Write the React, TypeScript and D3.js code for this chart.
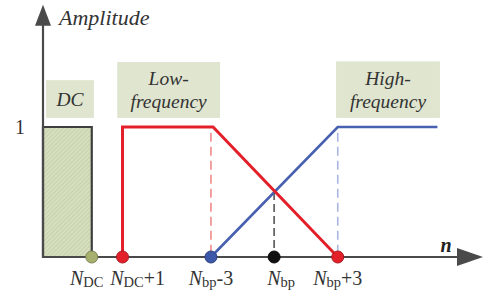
import React, { useEffect, useRef } from 'react';
import * as d3 from 'd3';

// schematic positions along n (arbitrary units)
const nDC = 2.3;
const nDC1 = 3.75;
const nBpMinus3 = 7.92;
const nBp = 10.9;
const nBpPlus3 = 13.9;
const nEndBlue = 18.6;
const nAxisEnd = 20.75;

// response curves: [n, amplitude]
const dcBand: [number, number][] = [[0, 0], [0, 1], [nDC, 1], [nDC, 0]];
const lowBand: [number, number][] = [[nDC1, 0], [nDC1, 1], [nBpMinus3 + 0.1, 1], [nBpPlus3, 0]];
const highBand: [number, number][] = [[nBpMinus3, 0], [nBpPlus3, 1], [nEndBlue, 1]];

const tickLabels = [
    { n: nDC, main: 'N', sub: 'DC', tail: '', dot: '#a8b070', nudge: -5 },
    { n: nDC1, main: 'N', sub: 'DC', tail: '+1', dot: '#e3202a', nudge: 15 },
    { n: nBpMinus3, main: 'N', sub: 'bp', tail: '-3', dot: '#3d58a8', nudge: 0 },
    { n: nBp, main: 'N', sub: 'bp', tail: '', dot: '#111111', nudge: 7 },
    { n: nBpPlus3, main: 'N', sub: 'bp', tail: '+3', dot: '#e3202a', nudge: 0 },
];

const bandBoxes = [
    { lines: ['DC'], n0: 0.14, n1: 2.4, top: 1.36 },
    { lines: ['Low-', 'frequency'], n0: 3.5, n1: 8.35, top: 1.5 },
    { lines: ['High-', 'frequency'], n0: 13.82, n1: 18.72, top: 1.505 },
];

function App() {
    const ref = useRef<SVGSVGElement>(null);
    const width = 487;
    const height = 297;

    useEffect(() => {
        drawChart();
    });

    function drawChart() {
        const svg = d3.select(ref.current);
        svg.selectAll('*').remove();

        const x = d3.scaleLinear().domain([0, nAxisEnd]).range([43, 483]);
        const y = d3.scaleLinear().domain([0, 1]).range([257, 127]);
        const serif = "'Liberation Serif', 'Times New Roman', Times, 'DejaVu Serif', serif";

        const defs = svg.append('defs');
        const pat = defs.append('pattern')
            .attr('id', 'hatch')
            .attr('patternUnits', 'userSpaceOnUse')
            .attr('width', 3)
            .attr('height', 3)
            .attr('patternTransform', 'rotate(45)');
        pat.append('rect').attr('width', 3).attr('height', 3).attr('fill', '#d6dfc0');
        pat.append('line').attr('x1', 0).attr('y1', 0).attr('x2', 0).attr('y2', 3)
            .attr('stroke', '#b7c496').attr('stroke-width', 1);

        const line = d3.line<[number, number]>().x(d => x(d[0])).y(d => y(d[1]));

        // label boxes
        bandBoxes.forEach(b => {
            const g = svg.append('g');
            const x0 = x(b.n0), x1 = x(b.n1);
            const y0 = y(b.top), y1 = y(1.07);
            g.append('rect')
                .attr('x', x0).attr('y', y0)
                .attr('width', x1 - x0).attr('height', y1 - y0)
                .attr('fill', '#dfe5cf');
            const cy = (y0 + y1) / 2;
            b.lines.forEach((t, i) => {
                g.append('text')
                    .attr('x', (x0 + x1) / 2)
                    .attr('y', cy + 7 + (i - (b.lines.length - 1) / 2) * 23)
                    .attr('text-anchor', 'middle')
                    .style('font-family', serif)
                    .attr('font-style', 'italic')
                    .attr('font-size', 19.5)
                    .attr('fill', '#333')
                    .text(t);
            });
        });

        // DC band
        svg.append('path')
            .attr('d', line(dcBand))
            .attr('fill', 'url(#hatch)')
            .attr('stroke', '#3f3f3f')
            .attr('stroke-width', 2.2);

        // dashed guides
        svg.append('line')
            .attr('x1', x(nBpMinus3)).attr('x2', x(nBpMinus3))
            .attr('y1', y(0.955)).attr('y2', y(0))
            .attr('stroke', '#f08a8a').attr('stroke-width', 1.6).attr('stroke-dasharray', '9,5');
        svg.append('line')
            .attr('x1', x(nBpPlus3)).attr('x2', x(nBpPlus3))
            .attr('y1', y(0.955)).attr('y2', y(0))
            .attr('stroke', '#a9b6e0').attr('stroke-width', 1.6).attr('stroke-dasharray', '9,5');
        svg.append('line')
            .attr('x1', x(nBp)).attr('x2', x(nBp))
            .attr('y1', y(0.5)).attr('y2', y(0))
            .attr('stroke', '#666').attr('stroke-width', 1.8).attr('stroke-dasharray', '8,4');

        // curves
        svg.append('path')
            .attr('d', line(highBand))
            .attr('fill', 'none')
            .attr('stroke', '#4860b0')
            .attr('stroke-width', 2.6);
        svg.append('path')
            .attr('d', line(lowBand))
            .attr('fill', 'none')
            .attr('stroke', '#e3202a')
            .attr('stroke-width', 3);

        // axes
        svg.append('line')
            .attr('x1', x(0)).attr('x2', x(nAxisEnd) - 20)
            .attr('y1', y(0)).attr('y2', y(0))
            .attr('stroke', '#4a4a4a').attr('stroke-width', 2.2);
        svg.append('path')
            .attr('d', `M${x(nAxisEnd)},${y(0)} L${x(nAxisEnd) - 26},${y(0) - 9} L${x(nAxisEnd) - 26},${y(0) + 9} Z`)
            .attr('fill', '#4a4a4a');
        svg.append('line')
            .attr('x1', x(0)).attr('x2', x(0))
            .attr('y1', y(0) + 1).attr('y2', y(1.9))
            .attr('stroke', '#4a4a4a').attr('stroke-width', 2.2);
        svg.append('path')
            .attr('d', `M${x(0)},${y(1.94)} L${x(0) - 8},${y(1.94) + 21} L${x(0) + 8},${y(1.94) + 21} Z`)
            .attr('fill', '#4a4a4a');

        svg.append('text')
            .attr('x', 59).attr('y', 25)
            .style('font-family', serif).attr('font-style', 'italic')
            .attr('font-size', 22).attr('fill', '#333')
            .text('Amplitude');
        svg.append('text')
            .attr('x', 20).attr('y', y(1) + 7)
            .attr('text-anchor', 'middle')
            .style('font-family', serif).attr('font-size', 20).attr('fill', '#333')
            .text('1');
        svg.append('text')
            .attr('x', 446).attr('y', 252)
            .attr('text-anchor', 'middle')
            .style('font-family', serif).attr('font-style', 'italic').attr('font-weight', 'bold')
            .attr('font-size', 20).attr('fill', '#222')
            .text('n');

        // tick dots and labels
        tickLabels.forEach(t => {
            svg.append('circle')
                .attr('cx', x(t.n)).attr('cy', y(0)).attr('r', 6)
                .attr('fill', t.dot)
                .attr('stroke', d3.color(t.dot)!.darker(0.8).formatHex())
                .attr('stroke-width', 1);
            const txt = svg.append('text')
                .attr('x', x(t.n) + t.nudge).attr('y', 285)
                .attr('text-anchor', 'middle')
                .style('font-family', serif).attr('font-size', 20).attr('fill', '#333');
            txt.append('tspan').attr('font-style', 'italic').text(t.main);
            txt.append('tspan').attr('font-size', 14.5).attr('dy', 2).text(t.sub);
            if (t.tail) txt.append('tspan').attr('dy', -2).text(t.tail);
        });
    }

    return (
        <svg ref={ref} width={width} height={height}
            style={{ position: 'absolute', left: 0, top: 0, background: '#fff' }} />
    );
}

export default App;
